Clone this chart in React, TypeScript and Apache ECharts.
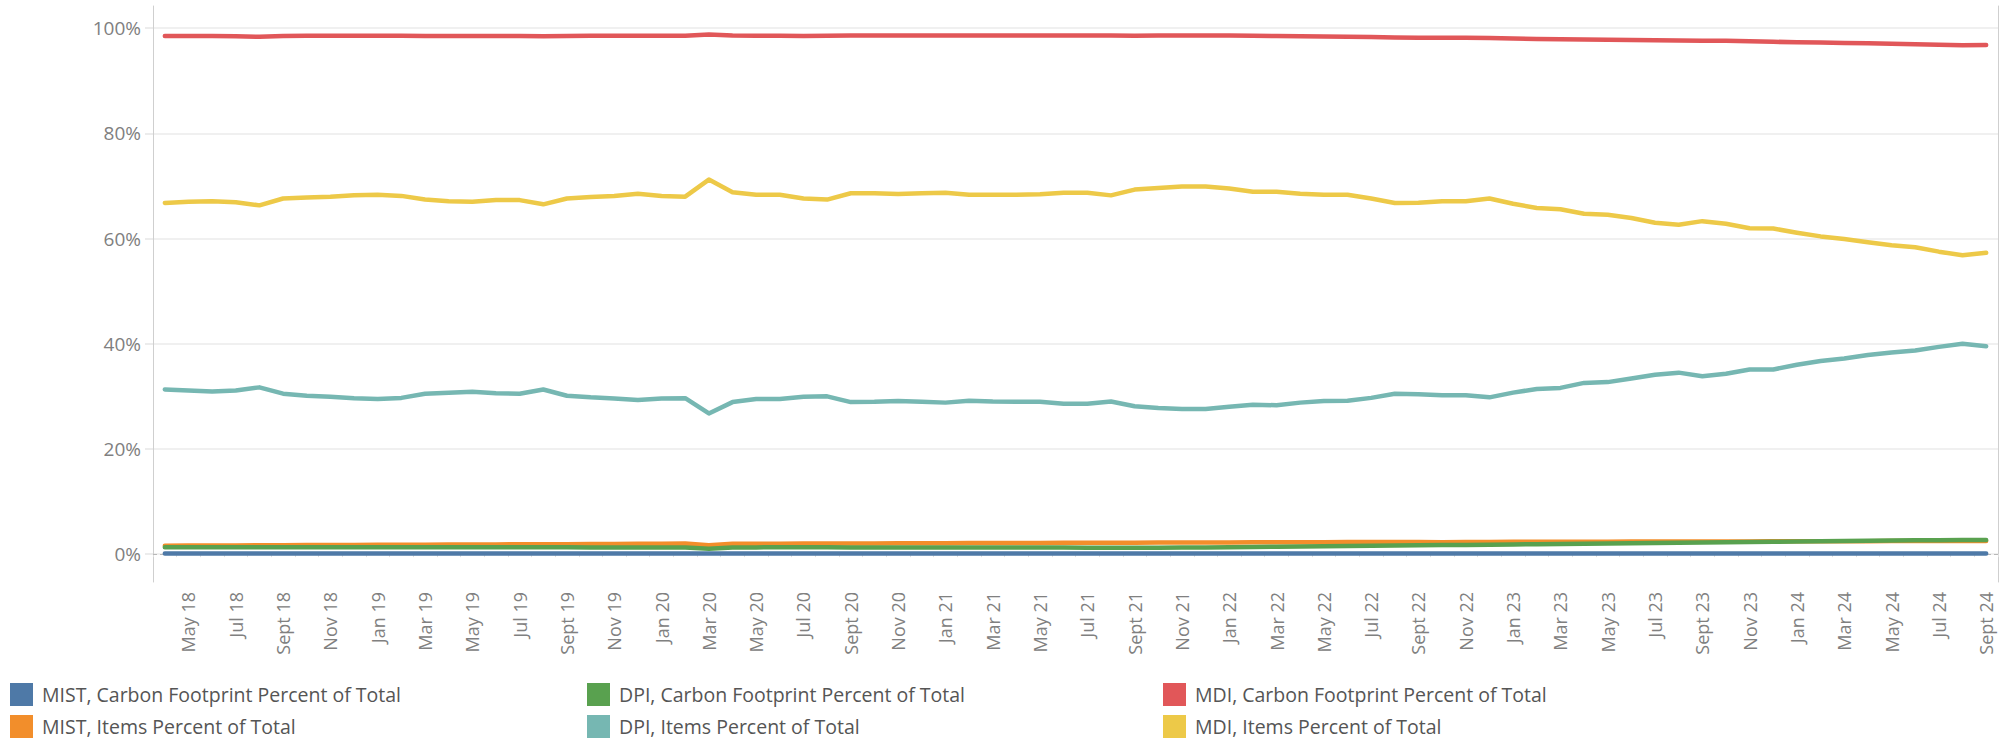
import React, { useEffect, useRef } from "react";
import * as echarts from "echarts";

const categories = [
  "Apr 18", "May 18", "Jun 18", "Jul 18", "Aug 18", "Sept 18", "Oct 18", "Nov 18", "Dec 18",
  "Jan 19", "Feb 19", "Mar 19", "Apr 19", "May 19", "Jun 19", "Jul 19", "Aug 19", "Sept 19", "Oct 19", "Nov 19", "Dec 19",
  "Jan 20", "Feb 20", "Mar 20", "Apr 20", "May 20", "Jun 20", "Jul 20", "Aug 20", "Sept 20", "Oct 20", "Nov 20", "Dec 20",
  "Jan 21", "Feb 21", "Mar 21", "Apr 21", "May 21", "Jun 21", "Jul 21", "Aug 21", "Sept 21", "Oct 21", "Nov 21", "Dec 21",
  "Jan 22", "Feb 22", "Mar 22", "Apr 22", "May 22", "Jun 22", "Jul 22", "Aug 22", "Sept 22", "Oct 22", "Nov 22", "Dec 22",
  "Jan 23", "Feb 23", "Mar 23", "Apr 23", "May 23", "Jun 23", "Jul 23", "Aug 23", "Sept 23", "Oct 23", "Nov 23", "Dec 23",
  "Jan 24", "Feb 24", "Mar 24", "Apr 24", "May 24", "Jun 24", "Jul 24", "Aug 24", "Sept 24",
];

const yTicks = [0, 20, 40, 60, 80, 100];

const mistCarbon = [
  0.1, 0.1, 0.1, 0.1, 0.1, 0.1, 0.1, 0.1, 0.1, 0.1,
  0.1, 0.1, 0.1, 0.1, 0.1, 0.1, 0.1, 0.1, 0.1, 0.1,
  0.1, 0.1, 0.1, 0.1, 0.1, 0.1, 0.1, 0.1, 0.1, 0.1,
  0.1, 0.1, 0.1, 0.1, 0.1, 0.1, 0.1, 0.1, 0.1, 0.1,
  0.11, 0.11, 0.11, 0.11, 0.11, 0.11, 0.11, 0.11, 0.11, 0.11,
  0.12, 0.12, 0.12, 0.12, 0.12, 0.12, 0.12, 0.12, 0.12, 0.12,
  0.12, 0.12, 0.12, 0.12, 0.12, 0.12, 0.12, 0.12, 0.12, 0.12,
  0.12, 0.12, 0.12, 0.12, 0.12, 0.12, 0.12, 0.12,
];

const mistItems = [
  1.6, 1.62, 1.63, 1.65, 1.68, 1.7, 1.72, 1.73, 1.75, 1.76,
  1.78, 1.8, 1.82, 1.83, 1.85, 1.86, 1.88, 1.9, 1.92, 1.93,
  1.95, 1.97, 2.0, 1.7, 1.95, 1.97, 1.98, 2.0, 2.0, 2.02,
  2.03, 2.05, 2.06, 2.08, 2.1, 2.1, 2.12, 2.13, 2.15, 2.15,
  2.16, 2.18, 2.2, 2.2, 2.22, 2.23, 2.25, 2.26, 2.27, 2.28,
  2.3, 2.3, 2.32, 2.3, 2.28, 2.3, 2.32, 2.33, 2.34, 2.35,
  2.36, 2.37, 2.38, 2.39, 2.4, 2.4, 2.41, 2.42, 2.43, 2.44,
  2.45, 2.46, 2.47, 2.48, 2.49, 2.5, 2.5, 2.5,
];

const dpiCarbon = [
  1.3, 1.3, 1.3, 1.3, 1.32, 1.3, 1.3, 1.3, 1.3, 1.3,
  1.3, 1.3, 1.3, 1.3, 1.3, 1.3, 1.32, 1.3, 1.28, 1.28,
  1.28, 1.28, 1.28, 1.0, 1.25, 1.28, 1.3, 1.3, 1.3, 1.28,
  1.28, 1.28, 1.28, 1.28, 1.28, 1.28, 1.28, 1.26, 1.25, 1.22,
  1.2, 1.2, 1.22, 1.25, 1.28, 1.3, 1.35, 1.4, 1.45, 1.5,
  1.55, 1.6, 1.65, 1.7, 1.72, 1.75, 1.8, 1.85, 1.88, 1.92,
  1.96, 2.0, 2.05, 2.1, 2.15, 2.2, 2.25, 2.3, 2.35, 2.4,
  2.45, 2.5, 2.55, 2.6, 2.62, 2.65, 2.68, 2.7,
];

const dpiItems = [
  31.3, 31.1, 30.9, 31.1, 31.7, 30.5, 30.1, 29.9, 29.65, 29.5,
  29.7, 30.5, 30.7, 30.85, 30.6, 30.5, 31.3, 30.1, 29.8, 29.6,
  29.3, 29.6, 29.65, 26.75, 28.9, 29.5, 29.5, 29.9, 30.0, 28.9,
  28.95, 29.1, 28.95, 28.8, 29.15, 29.0, 28.95, 28.95, 28.6, 28.6,
  29.0, 28.1, 27.8, 27.6, 27.6, 28.0, 28.4, 28.3, 28.8, 29.1,
  29.15, 29.7, 30.5, 30.4, 30.2, 30.2, 29.8, 30.7, 31.4, 31.6,
  32.55, 32.7, 33.4, 34.1, 34.5, 33.8, 34.3, 35.1, 35.1, 36.0,
  36.7, 37.2, 37.85, 38.35, 38.7, 39.4, 40.0, 39.5,
];

const mdiCarbon = [
  98.5, 98.5, 98.5, 98.45, 98.35, 98.5, 98.55, 98.55, 98.55, 98.55,
  98.55, 98.5, 98.5, 98.5, 98.5, 98.5, 98.45, 98.5, 98.55, 98.55,
  98.55, 98.55, 98.55, 98.8, 98.6, 98.55, 98.55, 98.5, 98.55, 98.6,
  98.6, 98.6, 98.6, 98.6, 98.6, 98.6, 98.6, 98.6, 98.6, 98.6,
  98.6, 98.55, 98.6, 98.6, 98.6, 98.6, 98.55, 98.5, 98.45, 98.4,
  98.35, 98.3, 98.2, 98.15, 98.15, 98.15, 98.1, 98.0, 97.95, 97.9,
  97.85, 97.8, 97.75, 97.7, 97.65, 97.6, 97.6, 97.5, 97.4, 97.3,
  97.25, 97.15, 97.1, 97.0, 96.95, 96.85, 96.75, 96.8,
];

const mdiItems = [
  66.75, 67.0, 67.1, 66.9, 66.3, 67.6, 67.8, 67.95, 68.2, 68.3,
  68.1, 67.4, 67.1, 67.0, 67.3, 67.3, 66.5, 67.6, 67.9, 68.1,
  68.5, 68.1, 67.95, 71.2, 68.8, 68.3, 68.3, 67.6, 67.4, 68.6,
  68.6, 68.45, 68.6, 68.7, 68.3, 68.3, 68.3, 68.4, 68.7, 68.7,
  68.2, 69.3, 69.6, 69.9, 69.9, 69.5, 68.9, 68.9, 68.5, 68.3,
  68.3, 67.6, 66.75, 66.8, 67.1, 67.1, 67.6, 66.6, 65.8, 65.55,
  64.7, 64.5, 63.9, 63.0, 62.6, 63.3, 62.8, 61.95, 61.9, 61.1,
  60.4, 59.9, 59.3, 58.7, 58.35, 57.5, 56.8, 57.3,
];

const seriesNames = [
  "MIST, Carbon Footprint Percent of Total",
  "MIST, Items Percent of Total",
  "DPI, Carbon Footprint Percent of Total",
  "DPI, Items Percent of Total",
  "MDI, Carbon Footprint Percent of Total",
  "MDI, Items Percent of Total",
];
const seriesColors = ["#4e79a7", "#f28e2b", "#59a14f", "#76b7b2", "#e15759", "#edc948"];
const seriesValues = [mistCarbon, mistItems, dpiCarbon, dpiItems, mdiCarbon, mdiItems];

const FONT = "Open Sans";

export default function App() {
  const ref = useRef<HTMLDivElement>(null);
  useEffect(() => {
    if (!ref.current) return;
    const chart = echarts.init(ref.current, undefined, { renderer: "svg" });
    const series: any[] = seriesValues.map((vals, i) => ({
      name: seriesNames[i],
      type: "line",
      data: vals,
      symbol: "none",
      smooth: false,
      z: 6 + i,
      lineStyle: { width: 4.5, color: seriesColors[i], cap: "round", join: "round" },
      itemStyle: { color: seriesColors[i] },
      ...(i === 0
        ? {
            markLine: {
              silent: true,
              symbol: "none",
              z: 3,
              label: { show: false },
              lineStyle: { color: "#b8b8b8", type: [4, 3], width: 1 },
              data: [{ yAxis: 0 }],
            },
          }
        : {}),
    }));
    const legendBase = {
      orient: "vertical",
      top: 683,
      padding: 0,
      itemWidth: 23,
      itemHeight: 23,
      itemGap: 9,
      icon: "rect",
      selectedMode: false,
      textStyle: {
        fontFamily: FONT,
        fontSize: 19.5,
        lineHeight: 23,
        color: "#555555",
        padding: [0, 0, 0, 4],
      },
    };
    chart.setOption({
      animation: false,
      textStyle: { fontFamily: FONT },
      grid: { left: 153, right: 10, top: 6, bottom: 159, containLabel: false, outerBoundsMode: "none" },
      legend: [
        { ...legendBase, left: 10, data: [seriesNames[0], seriesNames[1]] },
        { ...legendBase, left: 587, data: [seriesNames[2], seriesNames[3]] },
        { ...legendBase, left: 1163, data: [seriesNames[4], seriesNames[5]] },
      ],
      xAxis: {
        type: "category",
        data: categories,
        boundaryGap: true,
        axisLine: { show: false },
        axisTick: { show: true, interval: 0, length: 3, lineStyle: { color: "#e0e0e0", width: 1 } },
        axisLabel: {
          rotate: 90,
          margin: 10,
          fontSize: 18,
          color: "#808080",
          fontFamily: FONT,
          interval: (index: number) => index % 2 === 1,
        },
        splitLine: { show: false },
      },
      yAxis: [
        {
          type: "value",
          min: -5.3,
          max: 104.2,
          splitNumber: 5,
          axisLine: { show: true, lineStyle: { color: "#cfcfcf", width: 1 } },
          axisTick: {
            show: true,
            length: 8,
            customValues: yTicks,
            lineStyle: { color: "#ececec", width: 2 },
          },
          axisLabel: {
            customValues: yTicks,
            formatter: (v: number) => `${v}%`,
            fontSize: 19,
            color: "#808080",
            fontFamily: FONT,
            margin: 12,
            padding: [4, 0, 0, 0],
          },
          splitLine: {
            show: true,
            lineStyle: { color: "#f0f0f0", width: 2 },
          },
        },
        {
          type: "value",
          position: "right",
          min: -5.3,
          max: 104.2,
          axisLine: { show: true, lineStyle: { color: "#cfcfcf", width: 1 } },
          axisTick: { show: false },
          axisLabel: { show: false },
          splitLine: { show: false },
        },
      ],
      series,
    });
    return () => chart.dispose();
  }, []);
  return (
    <div
      ref={ref}
      style={{ position: "fixed", left: 0, top: 0, width: 2008, height: 741, background: "#ffffff" }}
    />
  );
}
